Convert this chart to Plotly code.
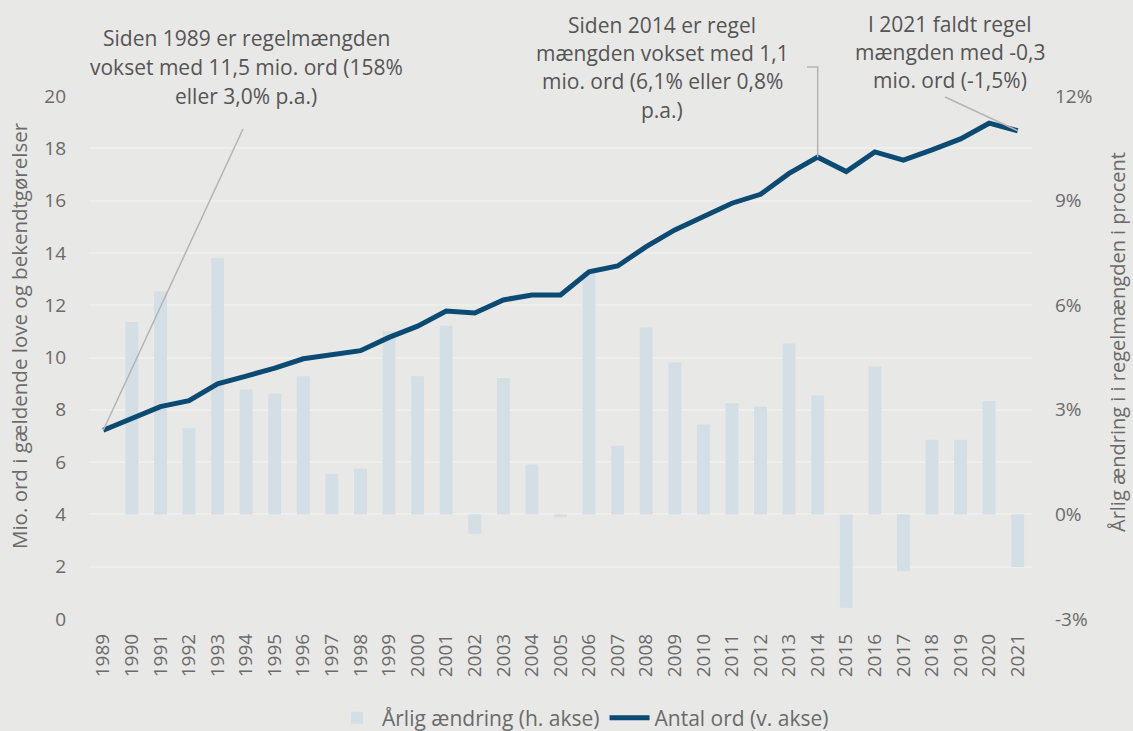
import plotly.graph_objects as go

years = [str(y) for y in range(1989, 2022)]
words_mio = [7.22, 7.67, 8.12, 8.35, 8.99, 9.29, 9.59, 9.95, 10.12, 10.26, 10.77,
             11.20, 11.78, 11.70, 12.20, 12.39, 12.39, 13.28, 13.50, 14.24, 14.88,
             15.38, 15.90, 16.24, 17.04, 17.66, 17.11, 17.86, 17.55, 17.94, 18.36,
             18.96, 18.67]
annual_change_pct = [None, 5.52, 6.39, 2.47, 7.35, 3.58, 3.47, 3.96, 1.16, 1.31, 5.25,
                     3.96, 5.41, -0.56, 3.91, 1.43, -0.08, 6.95, 1.97, 5.36, 4.36,
                     2.58, 3.19, 3.09, 4.90, 3.41, -2.68, 4.24, -1.63, 2.14, 2.14,
                     3.25, -1.51]

left_ticks = list(range(0, 21, 2))
right_ticks = [-3, 0, 3, 6, 9, 12]
right_ticklabels = [f"{v}%" for v in right_ticks]

name_bar = "Årlig ændring (h. akse)"
name_line = "Antal ord (v. akse)"
title_left = "Mio. ord i gældende love og bekendtgørelser"
title_right = "Årlig ændring i i regelmængden i procent"

ann1 = ["Siden 1989 er regelmængden", "vokset med 11,5 mio. ord (158%", "eller 3,0% p.a.)"]
ann2 = ["Siden 2014 er regel", "mængden vokset med 1,1", "mio. ord (6,1% eller 0,8%", "p.a.)"]
ann3 = ["I 2021 faldt regel", "mængden med -0,3", "mio. ord (-1,5%)"]

FONT = "Open Sans"
TXT = "#6b6b6b"
ANN = "#555555"
BG = "#e8e8e6"
W, H = 1133, 731
ML, MR, MT, MB = 89, 101, 96, 112
PW = W - ML - MR
PH = H - MT - MB
LMAX = 20


def px2x(px):
    return (px - ML) / PW


def px2y(py):
    return (H - MB - py) / PH


def cat_x(i):
    return (i + 0.5) / len(years)


def val_y(v):
    return v / LMAX


fig = go.Figure()
fig.add_trace(go.Bar(
    x=years, y=annual_change_pct, name=name_bar, yaxis="y",
    marker=dict(color="#d3dee5", line=dict(width=0)),
))
fig.add_trace(go.Scatter(
    x=years, y=words_mio, name=name_line, yaxis="y2", mode="lines",
    line=dict(color="#0b4a72", width=5),
))

annotations = []


def add_lines(lines, cx, ys):
    for t, py in zip(lines, ys):
        annotations.append(dict(
            text=t, xref="paper", yref="paper", x=px2x(cx), y=px2y(py),
            xanchor="center", yanchor="middle", showarrow=False,
            font=dict(family=FONT, size=21, color=ANN),
        ))


add_lines(ann1, 246, [38, 67, 96])
add_lines(ann2, 662, [25, 53, 81, 110])
add_lines(ann3, 950, [24, 52, 80])

annotations.append(dict(
    text=title_left, xref="paper", yref="paper", x=px2x(19), y=px2y(336),
    textangle=-90, xanchor="center", yanchor="middle", showarrow=False,
    font=dict(family=FONT, size=20.5, color=TXT)))
annotations.append(dict(
    text=title_right, xref="paper", yref="paper", x=px2x(1117), y=px2y(342),
    textangle=-90, xanchor="center", yanchor="middle", showarrow=False,
    font=dict(family=FONT, size=20, color=TXT)))

lc = dict(color="#b4b4b4", width=1.5)
shapes = [
    dict(type="line", xref="paper", yref="paper",
         x0=cat_x(0), y0=val_y(words_mio[0]), x1=px2x(243), y1=px2y(129), line=lc),
    dict(type="path", xref="paper", yref="paper",
         path=f"M{cat_x(25)},{val_y(words_mio[25])} L{cat_x(25)},{px2y(67)} L{px2x(807)},{px2y(67)}",
         line=lc),
    dict(type="line", xref="paper", yref="paper",
         x0=px2x(945), y0=px2y(97), x1=cat_x(32), y1=val_y(words_mio[32]), line=lc),
]

fig.update_layout(
    width=W, height=H,
    margin=dict(l=ML, r=MR, t=MT, b=MB, autoexpand=False),
    paper_bgcolor=BG, plot_bgcolor=BG,
    font=dict(family=FONT, size=19, color=TXT),
    bargap=0.55,
    showlegend=True,
    legend=dict(orientation="h", x=px2x(583), y=px2y(718), xanchor="center",
                yanchor="middle", font=dict(family=FONT, size=21, color=TXT),
                bgcolor="rgba(0,0,0,0)", itemwidth=40),
    xaxis=dict(type="category", tickangle=-90, showgrid=False, zeroline=False,
               showline=False, ticks="", ticklabelstandoff=10,
               tickfont=dict(family=FONT, size=19, color=TXT)),
    yaxis=dict(side="right", range=[-3, 12], tickvals=right_ticks,
               ticktext=right_ticklabels, showgrid=False, zeroline=False,
               showline=False, ticks="", ticklabelstandoff=22,
               tickfont=dict(family=FONT, size=19, color=TXT)),
    yaxis2=dict(side="left", overlaying="y", range=[0, LMAX], tickvals=left_ticks,
                showgrid=True, gridcolor="#eeeeec", gridwidth=1.5, zeroline=False,
                showline=False, ticks="", ticklabelstandoff=22,
                tickfont=dict(family=FONT, size=19, color=TXT)),
    annotations=annotations,
    shapes=shapes,
)

fig.write_html("out.html", config={"displayModeBar": False},
               post_script="document.body.style.margin='0';document.body.style.overflow='hidden';")
